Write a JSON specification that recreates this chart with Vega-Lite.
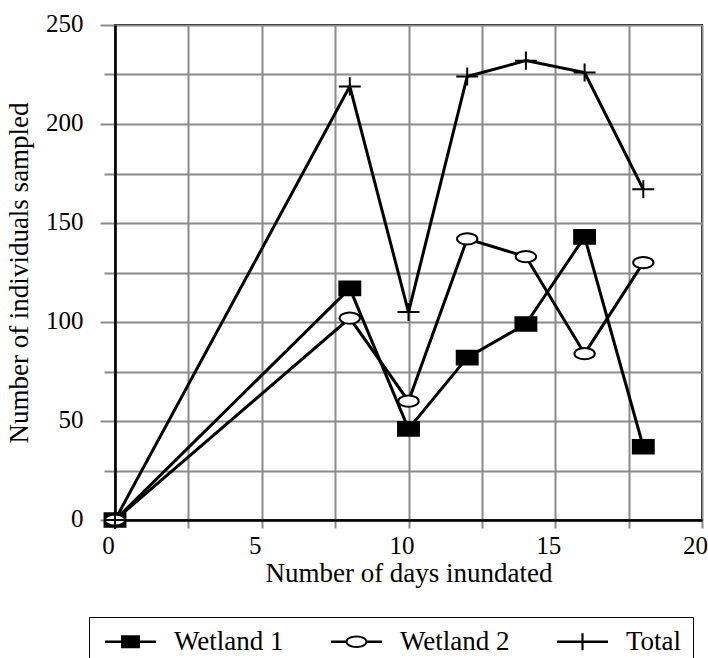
{
  "$schema": "https://vega.github.io/schema/vega-lite/v6.json",
  "width": 587,
  "height": 495,
  "autosize": {"type": "none"},
  "padding": {"left": 115, "top": 25, "right": 6, "bottom": 138},
  "background": "white",
  "config": {
    "view": {"stroke": "black", "strokeWidth": 2},
    "axis": {
      "domainColor": "black",
      "domainWidth": 2.5,
      "gridColor": "#8a8a8a",
      "gridWidth": 2,
      "gridOpacity": 1,
      "tickColor": "#8a8a8a",
      "tickWidth": 2,
      "labelFont": "Liberation Serif",
      "labelFontSize": 25,
      "labelColor": "black",
      "titleFont": "Liberation Serif",
      "titleFontSize": 27,
      "titleFontWeight": "normal",
      "titleColor": "black"
    }
  },
  "data": {
    "values": [
      {"days": 0, "count": 0, "series": "Wetland 1"},
      {"days": 8, "count": 117, "series": "Wetland 1"},
      {"days": 10, "count": 46, "series": "Wetland 1"},
      {"days": 12, "count": 82, "series": "Wetland 1"},
      {"days": 14, "count": 99, "series": "Wetland 1"},
      {"days": 16, "count": 143, "series": "Wetland 1"},
      {"days": 18, "count": 37, "series": "Wetland 1"},
      {"days": 0, "count": 0, "series": "Wetland 2"},
      {"days": 8, "count": 102, "series": "Wetland 2"},
      {"days": 10, "count": 60, "series": "Wetland 2"},
      {"days": 12, "count": 142, "series": "Wetland 2"},
      {"days": 14, "count": 133, "series": "Wetland 2"},
      {"days": 16, "count": 84, "series": "Wetland 2"},
      {"days": 18, "count": 130, "series": "Wetland 2"},
      {"days": 0, "count": 0, "series": "Total"},
      {"days": 8, "count": 219, "series": "Total"},
      {"days": 10, "count": 105, "series": "Total"},
      {"days": 12, "count": 224, "series": "Total"},
      {"days": 14, "count": 232, "series": "Total"},
      {"days": 16, "count": 226, "series": "Total"},
      {"days": 18, "count": 167, "series": "Total"}
    ]
  },
  "encoding": {
    "x": {
      "field": "days",
      "type": "quantitative",
      "scale": {"domain": [0, 20], "nice": false},
      "axis": {
        "title": "Number of days inundated",
        "values": [0, 2.5, 5, 7.5, 10, 12.5, 15, 17.5, 20],
        "labelExpr": "datum.value % 5 === 0 ? datum.label : ''",
        "tickSize": 8,
        "labelPadding": 5,
        "labelOffset": -7,
        "labelFlush": false,
        "labelOverlap": false,
        "titlePadding": 2
      }
    },
    "y": {
      "field": "count",
      "type": "quantitative",
      "scale": {"domain": [0, 250], "nice": false},
      "axis": {
        "title": "Number of individuals sampled",
        "values": [0, 25, 50, 75, 100, 125, 150, 175, 200, 225, 250],
        "labelExpr": "datum.value % 50 === 0 ? datum.label : ''",
        "tickSize": {"condition": {"test": "datum.value % 50 === 0", "value": 15}, "value": 11},
        "labelPadding": 17,
        "labelOffset": -2,
        "labelFlush": false,
        "labelOverlap": false,
        "titlePadding": 12
      }
    }
  },
  "layer": [
    {
      "mark": {"type": "line", "color": "black", "strokeWidth": 3},
      "encoding": {"detail": {"field": "series"}}
    },
    {
      "mark": {"type": "point", "stroke": "black", "strokeWidth": 2, "size": 121, "opacity": 1},
      "encoding": {
        "shape": {
          "field": "series",
          "type": "nominal",
          "scale": {
            "domain": ["Wetland 1", "Wetland 2", "Total"],
            "range": [
              "M-1.9,-1.24H1.9V1.24H-1.9Z",
              "M-1.85,0A1.85,1.02 0 1,0 1.85,0A1.85,1.02 0 1,0 -1.85,0Z",
              "M-2,0H2M0,-1.64V1.64"
            ]
          },
          "legend": null
        },
        "fill": {
          "field": "series",
          "type": "nominal",
          "scale": {"domain": ["Wetland 1", "Wetland 2", "Total"], "range": ["black", "white", "transparent"]},
          "legend": null
        }
      }
    },
    {
      "mark": {"type": "point", "filled": true, "fill": "black", "strokeWidth": 0, "opacity": 0},
      "encoding": {
        "shape": {
          "field": "series",
          "type": "nominal",
          "scale": {
            "domain": ["Wetland 1", "Wetland 2", "Total"],
            "range": [
              "M-2.83,-0.14H-0.9V0.14H-2.83Z M0.9,-0.14H2.83V0.14H0.9Z M-1.05,-0.72H1.05V0.72H-1.05Z",
              "M-2.83,-0.14H-1.2V0.14H-2.83Z M1.2,-0.14H2.83V0.14H1.2Z M-1.22,0A1.22,0.69 0 1,1 1.22,0A1.22,0.69 0 1,1 -1.22,0Z M-1,0A1,0.47 0 1,0 1,0A1,0.47 0 1,0 -1,0Z",
              "M-2.83,-0.14H2.83V0.14H-2.83Z M-0.12,-0.94H0.12V0.94H-0.12Z"
            ]
          },
          "legend": {
            "title": null,
            "orient": "none",
            "legendX": -26,
            "legendY": 592,
            "direction": "horizontal",
            "strokeColor": "black",
            "padding": 11,
            "columnPadding": 42,
            "symbolSize": 324,
            "symbolOffset": 17,
            "symbolStrokeWidth": 0,
            "symbolFillColor": "black",
            "symbolOpacity": 1,
            "labelFont": "Liberation Serif",
            "labelFontSize": 27,
            "labelColor": "black",
            "labelOffset": 30,
            "labelLimit": 300,
            "encode": {
              "legend": {"strokeWidth": {"value": 2}},
              "symbols": {"opacity": {"value": 1}, "fill": {"value": "black"}, "fillOpacity": {"value": 1}}
            }
          }
        }
      }
    }
  ],
  "resolve": {
    "scale": {"shape": "independent", "fill": "independent"},
    "legend": {"shape": "independent", "fill": "independent"}
  }
}
